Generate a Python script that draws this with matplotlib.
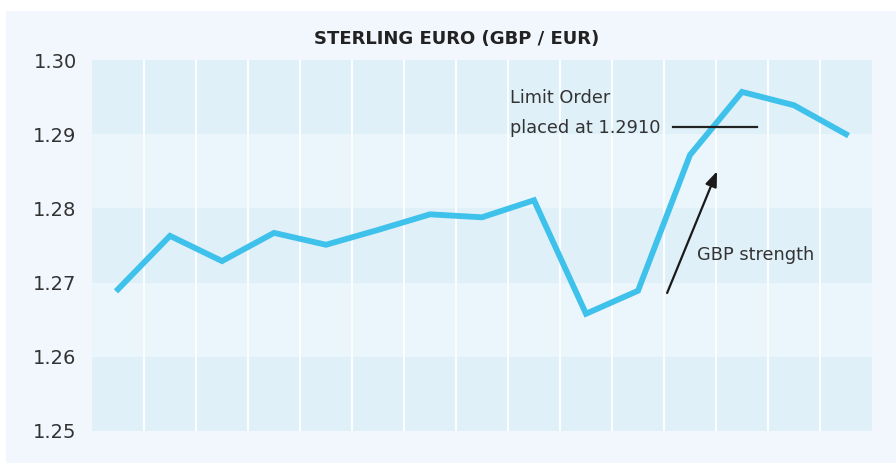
import matplotlib
matplotlib.use("Agg")
import matplotlib.pyplot as plt
from matplotlib.patches import Rectangle

# Data
periods = list(range(15))
gbp_eur = [1.2691, 1.2763, 1.2729, 1.2767, 1.2751, 1.2771, 1.2792, 1.2788,
           1.2811, 1.2658, 1.2689, 1.2872, 1.2957, 1.2939, 1.2900]
y_ticks = [1.25, 1.26, 1.27, 1.28, 1.29, 1.30]
y_tick_labels = ["1.25", "1.26", "1.27", "1.28", "1.29", "1.30"]
limit_order = 1.2910
title = "STERLING EURO (GBP / EUR)"

plt.rcParams['font.family'] = ['DejaVu Sans']

fig = plt.figure(figsize=(8.96, 4.63), dpi=100)
fig.patch.set_facecolor("white")
# background panel
fig.patches.append(Rectangle((6/896, 0), 1, 1 - 11/463, transform=fig.transFigure,
                             facecolor="#f2f7fd", edgecolor="none", zorder=-10))

ax = fig.add_axes([92/896, 32/463, 780/896, 371/463])
ax.set_facecolor("none")
ax.set_xlim(-0.5, 14.5)
ax.set_ylim(1.25, 1.30)

# bands
band_colors = ["#e0f0f9", "#eaf5fc"]
for i in range(len(y_ticks) - 1):
    lo, hi = y_ticks[i], y_ticks[i + 1]
    c = band_colors[0] if i % 2 == 0 else band_colors[1]
    ax.axhspan(lo, hi, color=c, zorder=0, lw=0)

# vertical white lines
for k in range(len(periods) - 1):
    ax.axvline(k + 0.5, color="white", lw=1.3, zorder=1)

ax.plot(periods, gbp_eur, color="#3ec1ea", lw=4.2, solid_joinstyle="miter", zorder=3)

# limit order line
ax.plot([10.67, 12.29], [limit_order, limit_order], color="#222222", lw=1.6, zorder=4)
ax.text(7.54, 1.2949, "Limit Order", fontsize=12.8, color="#333333", va="center", ha="left")
ax.text(7.54, 1.2909, "placed at 1.2910", fontsize=12.8, color="#333333", va="center", ha="left")

# arrow
ax.annotate("", xy=(11.52, 1.2850), xytext=(10.56, 1.2686),
            arrowprops=dict(arrowstyle="-|>,head_length=0.9,head_width=0.35",
                            color="#1a1a1a", lw=1.6, shrinkA=0, shrinkB=0), zorder=4)
ax.text(11.13, 1.2737, "GBP strength", fontsize=12.8, color="#333333", va="center", ha="left")

ax.set_yticks(y_ticks)
ax.set_yticklabels(y_tick_labels, fontsize=14, color="#333333")
ax.set_xticks([])
ax.tick_params(axis="y", length=0, pad=11)
for lbl in ax.get_yticklabels():
    lbl.set_verticalalignment("center_baseline")
for s in ax.spines.values():
    s.set_visible(False)

fig.text(457/896, 1 - 39/463, title, ha="center", va="center", fontsize=13,
         fontweight="bold", color="#222222")

fig.savefig("out.png", dpi=100)
